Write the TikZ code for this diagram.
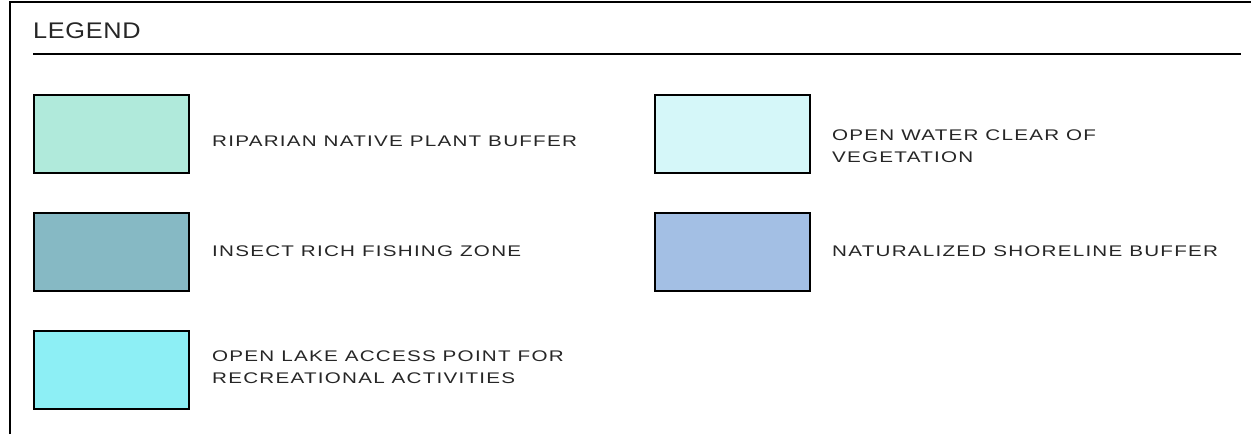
\documentclass[tikz,border=0pt]{standalone}
\usepackage{fontspec}
\usepackage{xcolor}
\usetikzlibrary{positioning}
\newfontfamily\legendfont[FakeStretch=1.34,LetterSpace=8]{Liberation Sans}
\newfontfamily\titlefont[FakeStretch=1.12,LetterSpace=3]{Liberation Sans}
\definecolor{ripc}{RGB}{176,234,219}
\definecolor{insc}{RGB}{134,185,196}
\definecolor{lakc}{RGB}{141,239,245}
\definecolor{opwc}{RGB}{213,247,249}
\definecolor{natc}{RGB}{163,191,228}

\begin{document}
\begin{tikzpicture}[x=1pt,y=-1pt,
  swatch/.style={draw,line width=1.6pt,minimum width=155pt,minimum height=78pt,inner sep=0pt,anchor=north west},
  lbl/.style={font=\fontsize{15.4}{22}\selectfont\legendfont,align=left,anchor=west,inner sep=0pt,text=black!85}]
  \useasboundingbox (0,0) rectangle (1251,434);
  % frame and heading
  \draw[line width=1.5pt] (10,434) -- (10,2) -- (1251,2);
  \node[font=\fontsize{22.6}{26}\selectfont\titlefont,anchor=west,inner sep=0pt,text=black!85] (title) at (33,31) {LEGEND};
  \coordinate (rl) at (33,54); \coordinate (rr) at (1241,54);
  \draw[line width=1.5pt] (rl) -- (rr);
  % swatches
  \foreach \n/\x/\y/\c in {rip/33/94/ripc,ins/33/212/insc,lak/33/330/lakc,opw/654/94/opwc,nat/654/212/natc}
    \node[swatch,fill=\c] (sw-\n) at (\x,\y) {};
  % labels
  \foreach \n/\x/\y/\t in {rip/212/141.5/{RIPARIAN NATIVE PLANT BUFFER},ins/212/251/{INSECT RICH FISHING ZONE},lak/212/367/{OPEN LAKE ACCESS POINT FOR\\RECREATIONAL ACTIVITIES},opw/832/146.5/{OPEN WATER CLEAR OF\\VEGETATION},nat/832/251/{NATURALIZED SHORELINE BUFFER}}
    \node[lbl] (lb-\n) at (\x,\y) {\t};
\end{tikzpicture}
\end{document}
